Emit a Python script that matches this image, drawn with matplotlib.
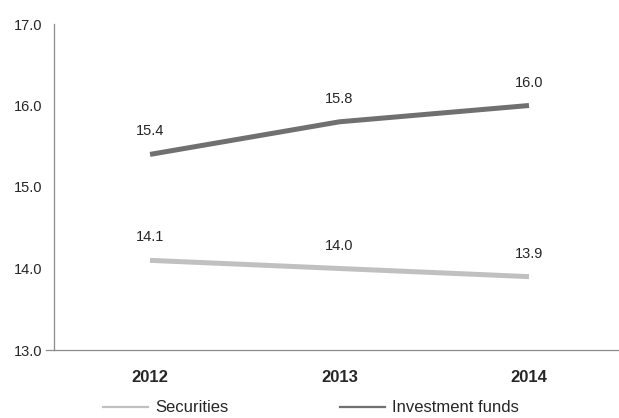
import matplotlib
matplotlib.use("Agg")
import matplotlib.pyplot as plt
from matplotlib.lines import Line2D

plt.rcParams['font.family'] = ['Liberation Sans', 'DejaVu Sans']

years = ["2012", "2013", "2014"]
securities = [14.1, 14.0, 13.9]
investment_funds = [15.4, 15.8, 16.0]
y_ticks = [13.0, 14.0, 15.0, 16.0, 17.0]

sec_color = "#c0c0c0"
fund_color = "#707070"
text_color = "#262626"

fig = plt.figure(figsize=(6.19, 4.18), dpi=100)
ax = fig.add_axes([54 / 619, 1 - 350 / 418, 1 - 54 / 619, 326 / 418])

x = list(range(len(years)))
ax.plot(x, securities, color=sec_color, lw=3.6, solid_capstyle="butt")
ax.plot(x, investment_funds, color=fund_color, lw=3.6, solid_capstyle="butt")

for series in (securities, investment_funds):
    for xi, v in zip(x, series):
        ax.annotate(f"{v:.1f}", (xi, v), xytext=(0, 11.5), textcoords="offset points",
                    ha="center", va="bottom", fontsize=10.5, color=text_color)

ax.set_xlim(-0.507, 2.475)
ax.set_ylim(13.0, 17.0)
ax.set_yticks(y_ticks)
ax.set_yticklabels([f"{t:.1f}" for t in y_ticks], fontsize=10.5, color=text_color)
ax.set_xticks(x)
ax.set_xticklabels(years, fontsize=12, fontweight="bold", color=text_color)
ax.tick_params(axis="y", length=0, pad=8.5)
ax.tick_params(axis="x", length=0, pad=14.5)

for s in ["top", "right"]:
    ax.spines[s].set_visible(False)
for s in ["left", "bottom"]:
    ax.spines[s].set_color("#8c8c8c")
    ax.spines[s].set_linewidth(0.9)
# short stub of the baseline to the left of the value axis
ax.plot([-0.014, 0], [0, 0], transform=ax.transAxes, color="#8c8c8c",
        lw=0.9, clip_on=False)

handles = [Line2D([], [], color=sec_color, lw=1.6),
           Line2D([], [], color=fund_color, lw=1.6)]
fig.legend(handles, ["Securities", "Investment funds"], loc="center left",
           bbox_to_anchor=(103 / 619, 1 - 408 / 418), ncol=2, frameon=False,
           fontsize=12, handlelength=2.7, handletextpad=0.42, columnspacing=6.7,
           borderpad=0, borderaxespad=0, labelcolor=text_color)

fig.savefig("out.png", dpi=100)
